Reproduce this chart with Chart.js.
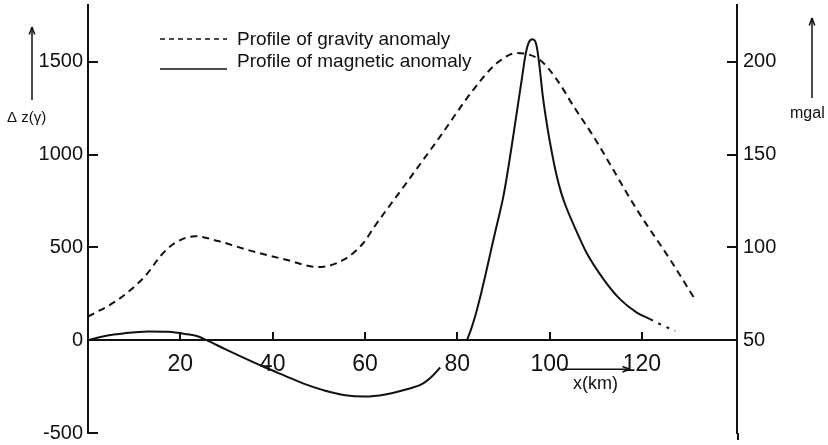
<!DOCTYPE html>
<html>
<head>
<meta charset="utf-8">
<title>Profiles of gravity and magnetic anomaly</title>
<script src="https://cdn.jsdelivr.net/npm/chart.js@4.4.1/dist/chart.umd.min.js"></script>
<style>
  html, body { margin: 0; padding: 0; background: #fff; }
  canvas { display: block; }
</style>
</head>
<body>
<canvas id="chart" width="828" height="445"></canvas>
<script>
'use strict';

// Profile of magnetic anomaly, left axis (gamma). null = break in the curve
const magKm = [0, 3.7, 8, 13.1, 17.4, 21, 23.9, 25.7, 29.7, 34, 38.4, 42.7, 47, 51.4, 55.7, 60, 64.4, 68.7, 72.3, 74.5, 76.3,
  79,
  82.1, 83, 84, 85, 86, 87, 88, 89, 90, 91, 92, 93, 94, 94.8, 95.5, 96.3, 96.9, 97.3, 97.8, 98.5, 99.5, 100.5, 101.5, 102.5,
  103.5, 105.5, 108, 111.7, 115.3, 118.9, 121.8, 124.5, 127.2];
const magVal = [0, 23, 38, 47, 45, 34, 20, 0, -48, -98, -147, -192, -237, -272, -296, -303, -292, -267, -237, -195, -147,
  null,
  0, 60, 140, 235, 340, 450, 560, 665, 776, 920, 1080, 1245, 1410, 1540, 1605, 1622, 1610, 1570, 1480, 1320, 1150, 1010, 890, 795,
  723, 605, 471, 328, 220, 149, 113, 80, 50];
const magDottedFrom = 121.8; // tail of the curve is only dotted

// Profile of gravity anomaly, right axis (mgal)
const gravKm = [0, 6.6, 12.4, 16, 18.9, 23.2, 28.2, 35.5, 42.7, 49.9, 55.5, 59.7, 62, 69, 76.3, 83.5, 88.6, 92.9, 97.9,
  101.6, 105.2, 109.5, 118.9, 126.1, 131.5];
const gravVal = [62.7, 72, 84.6, 96.2, 102.5, 106, 103.4, 98, 93.5, 89.4, 93.5, 102.5, 111, 134.8, 159.8, 185, 199.3, 204.7, 201,
  190.3, 176, 159.8, 120.4, 93.5, 72];

const seriesLabels = ['Profile of gravity anomaly', 'Profile of magnetic anomaly'];

// axes
const xTicks = [20, 40, 60, 80, 100, 120];
const zTicks = [-500, 0, 500, 1000, 1500];
const mgalTicks = [50, 100, 150, 200];
const xRange = [0, 140.6];
const zRange = [-500, 1806];
const mgalRange = [0, 230.6];

const ink = '#111';
const textFont = "'Liberation Sans', Arial, sans-serif";
const tickFont = { family: textFont };

function toPoints(xs, ys) {
  return xs.map((v, i) => ({ x: v, y: ys[i] }));
}

function line(ctx, x1, y1, x2, y2) {
  ctx.beginPath();
  ctx.moveTo(x1, y1);
  ctx.lineTo(x2, y2);
  ctx.stroke();
}

function arrow(ctx, x1, y1, x2, y2) {
  line(ctx, x1, y1, x2, y2);
  const a = Math.atan2(y2 - y1, x2 - x1);
  const h = 8;
  line(ctx, x2, y2, x2 - h * Math.cos(a - 0.35), y2 - h * Math.sin(a - 0.35));
  line(ctx, x2, y2, x2 - h * Math.cos(a + 0.35), y2 - h * Math.sin(a + 0.35));
}

// vertical axes: no extra room for the end labels, the frame is fixed
function fixVertical(width) {
  return (s) => {
    s.width = width;
    s.paddingTop = 0;
    s.paddingBottom = 0;
  };
}

// legend, axis names and arrows, as in the printed figure
const decorations = {
  id: 'decorations',
  afterDraw(chart) {
    const { ctx, chartArea, scales } = chart;
    const xs = scales.x;
    const zs = scales.y;
    const gs = scales.y1;
    ctx.save();
    ctx.strokeStyle = ink;
    ctx.fillStyle = ink;

    // right axis goes on a bit below the left one
    ctx.lineWidth = 2;
    line(ctx, gs.left + 1, chartArea.bottom, gs.left + 1, chartArea.bottom + 7);

    // legend
    const rows = [{ lineY: 39, textY: 45 }, { lineY: 69, textY: 67 }];
    ctx.font = '19px ' + textFont;
    ctx.textBaseline = 'alphabetic';
    ctx.textAlign = 'left';
    chart.data.datasets.forEach((ds, i) => {
      ctx.lineWidth = 1.5;
      ctx.setLineDash(i === 0 ? [5, 4] : []);
      line(ctx, 160, rows[i].lineY, 227, rows[i].lineY);
      ctx.setLineDash([]);
      ctx.fillText(ds.label, 237, rows[i].textY);
    });

    // left axis name
    ctx.lineWidth = 1.5;
    ctx.font = '15px ' + textFont;
    ctx.fillText('\u0394 z(\u03b3)', 7, 122);
    arrow(ctx, 32, 100, 32, 27);

    // right axis name
    ctx.font = '16px ' + textFont;
    ctx.fillText('mgal', 790, 118);
    arrow(ctx, 812, 98, 812, 18);

    // x axis name
    const y0 = zs.getPixelForValue(0);
    arrow(ctx, xs.getPixelForValue(100) + 12, y0 + 29, xs.getPixelForValue(120) - 12, y0 + 29);
    ctx.font = '18px ' + textFont;
    ctx.fillText('x(km)', 573, 389);
    ctx.restore();
  }
};

new Chart(document.getElementById('chart'), {
  type: 'line',
  data: {
    datasets: [
      {
        label: seriesLabels[0],
        data: toPoints(gravKm, gravVal),
        yAxisID: 'y1',
        borderColor: ink,
        borderWidth: 2,
        borderDash: [7, 5],
        pointRadius: 0,
        cubicInterpolationMode: 'monotone',
        fill: false,
      },
      {
        label: seriesLabels[1],
        data: toPoints(magKm, magVal),
        yAxisID: 'y',
        borderColor: ink,
        borderWidth: 2,
        pointRadius: 0,
        cubicInterpolationMode: 'monotone',
        spanGaps: false,
        fill: false,
        segment: {
          borderDash: (c) => (c.p0.parsed.x >= magDottedFrom ? [3, 6] : undefined),
        },
      },
    ],
  },
  options: {
    responsive: false,
    animation: false,
    devicePixelRatio: 1,
    layout: { padding: { left: 0, right: 0, top: 5, bottom: 12 } },
    plugins: {
      legend: { display: false },
      title: { display: false },
      tooltip: { enabled: false },
    },
    scales: {
      x: {
        type: 'linear',
        position: { y: 0 },
        min: xRange[0],
        max: xRange[1],
        afterBuildTicks: (s) => { s.ticks = xTicks.map((v) => ({ value: v })); },
        border: { display: true, color: ink, width: 2 },
        grid: { drawOnChartArea: false, drawTicks: true, tickLength: -9, color: ink, lineWidth: 2 },
        ticks: { color: ink, padding: 20, maxRotation: 0, font: { ...tickFont, size: 23 }, callback: (v) => String(v) },
      },
      y: {
        type: 'linear',
        position: 'left',
        min: zRange[0],
        max: zRange[1],
        afterBuildTicks: (s) => { s.ticks = zTicks.map((v) => ({ value: v })); },
        afterFit: fixVertical(88),
        border: { display: true, color: ink, width: 2 },
        grid: { drawOnChartArea: false, drawTicks: true, tickLength: -10, color: ink, lineWidth: 2 },
        ticks: { color: ink, padding: 15, font: { ...tickFont, size: 20 }, callback: (v) => String(v) },
      },
      y1: {
        type: 'linear',
        position: 'right',
        min: mgalRange[0],
        max: mgalRange[1],
        afterBuildTicks: (s) => { s.ticks = mgalTicks.map((v) => ({ value: v })); },
        afterFit: fixVertical(91),
        border: { display: true, color: ink, width: 2 },
        grid: { drawOnChartArea: false, drawTicks: true, tickLength: -10, color: ink, lineWidth: 2 },
        ticks: { color: ink, padding: 16, font: { ...tickFont, size: 20 }, callback: (v) => String(v) },
      },
    },
  },
  plugins: [decorations],
});
</script>
</body>
</html>
